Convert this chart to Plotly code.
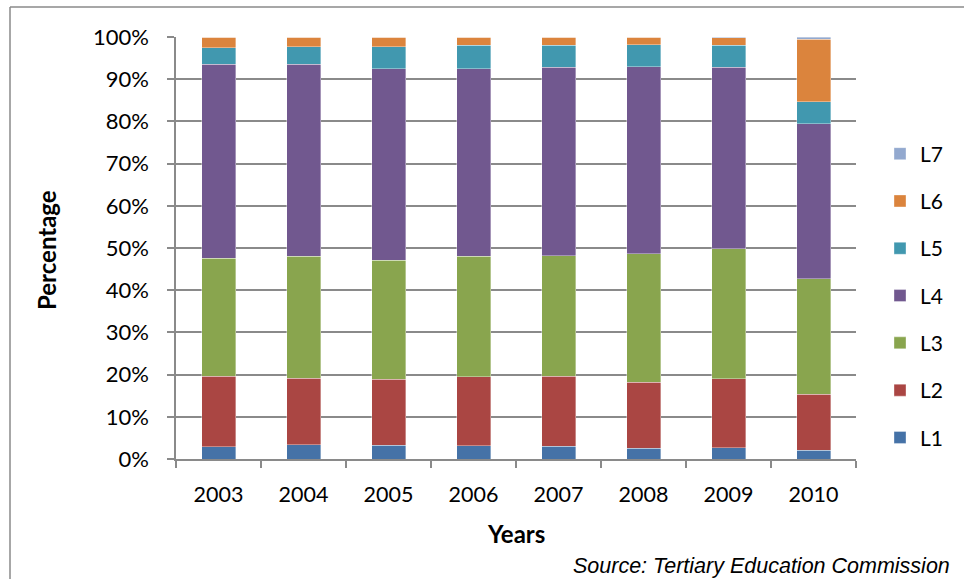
import plotly.graph_objects as go

# Share of enrolment by level, per year (percent of total)
years = ["2003", "2004", "2005", "2006", "2007", "2008", "2009", "2010"]
L1 = [2.9, 3.4, 3.25, 3.1, 3.0, 2.5, 2.7, 2.1]
L2 = [16.7, 15.7, 15.65, 16.4, 16.6, 15.7, 16.3, 13.2]
L3 = [28.0, 29.0, 28.2, 28.5, 28.6, 30.4, 30.8, 27.4]
L4 = [45.9, 45.4, 45.4, 44.5, 44.6, 44.4, 43.0, 36.8]
L5 = [4.0, 4.2, 5.2, 5.5, 5.2, 5.2, 5.2, 5.2]
L6 = [2.5, 2.3, 2.3, 2.0, 2.0, 1.8, 1.8, 14.8]
L7 = [0.0, 0.0, 0.0, 0.0, 0.0, 0.0, 0.2, 0.5]

series = [
    ("L1", L1, "#4572A7"),
    ("L2", L2, "#AA4643"),
    ("L3", L3, "#89A54E"),
    ("L4", L4, "#71588F"),
    ("L5", L5, "#4198AF"),
    ("L6", L6, "#DB843D"),
    ("L7", L7, "#93A9CF"),
]

FONT = "Lato, 'Open Sans', sans-serif"
GRID = "#8a8a8a"

fig = go.Figure()
n = len(series)
for i, (name, vals, color) in enumerate(series):
    fig.add_trace(go.Bar(
        x=years, y=vals, name=name, legendgroup=name, legendrank=n - i,
        marker=dict(color=color, line=dict(color="rgba(255,255,255,0.45)", width=0.8)),
    ))

# plot area in pixels: x 176..856, y 37..459
L, R, T, B = 176, 856, 37, 459
W, H = R - L, B - T
px = lambda x: (x - L) / W
py = lambda y: (B - y) / H

fig.update_layout(
    width=964, height=579,
    margin=dict(l=L, r=964 - R, t=T, b=579 - B, pad=0),
    barmode="stack", bargap=0.6,
    paper_bgcolor="white", plot_bgcolor="white",
    font=dict(family=FONT, size=21, color="black"),
    showlegend=True,
    legend=dict(
        traceorder="grouped", tracegroupgap=17,
        x=px(880), xanchor="left", y=py(296), yanchor="middle",
        font=dict(family=FONT, size=21, color="black"),
        bgcolor="rgba(0,0,0,0)",
    ),
    xaxis=dict(
        type="category", showgrid=False, showline=True, linecolor=GRID, linewidth=1.5,
        ticks="outside", tickson="boundaries", ticklen=7, tickcolor=GRID, tickwidth=1.5,
        tickfont=dict(family=FONT, size=21.5, color="black"), ticklabelstandoff=15,
    ),
    yaxis=dict(
        range=[0, 100], dtick=10, ticksuffix="%", showgrid=True, gridcolor=GRID, gridwidth=1.5,
        zeroline=False, showline=True, linecolor=GRID, linewidth=1.5,
        ticks="outside", ticklen=7, tickcolor=GRID, tickwidth=1.5,
        tickfont=dict(family=FONT, size=22, color="black"), ticklabelstandoff=14,
    ),
    annotations=[
        dict(text="<b>Years</b>", x=px(516), y=py(533), xref="paper", yref="paper",
             xanchor="center", yanchor="middle", showarrow=False,
             font=dict(family=FONT, size=24, color="black")),
        dict(text="<b>Percentage</b>", x=px(47), y=py(250), xref="paper", yref="paper",
             xanchor="center", yanchor="middle", showarrow=False, textangle=-90,
             font=dict(family=FONT, size=24, color="black")),
        dict(text="<i>Source: Tertiary Education Commission</i>", x=px(952), y=py(566),
             xref="paper", yref="paper", xanchor="right", yanchor="middle", showarrow=False,
             font=dict(family="Liberation Sans, Arial, sans-serif", size=21.5, color="black")),
    ],
    shapes=[
        # chart frame (top and left edges)
        dict(type="line", xref="paper", yref="paper", x0=px(10), x1=px(980), y0=py(7), y1=py(7),
             line=dict(color=GRID, width=1.5)),
        dict(type="line", xref="paper", yref="paper", x0=px(10), x1=px(10), y0=py(7), y1=py(600),
             line=dict(color=GRID, width=1.5)),
    ],
)

fig.write_html("out.html")
